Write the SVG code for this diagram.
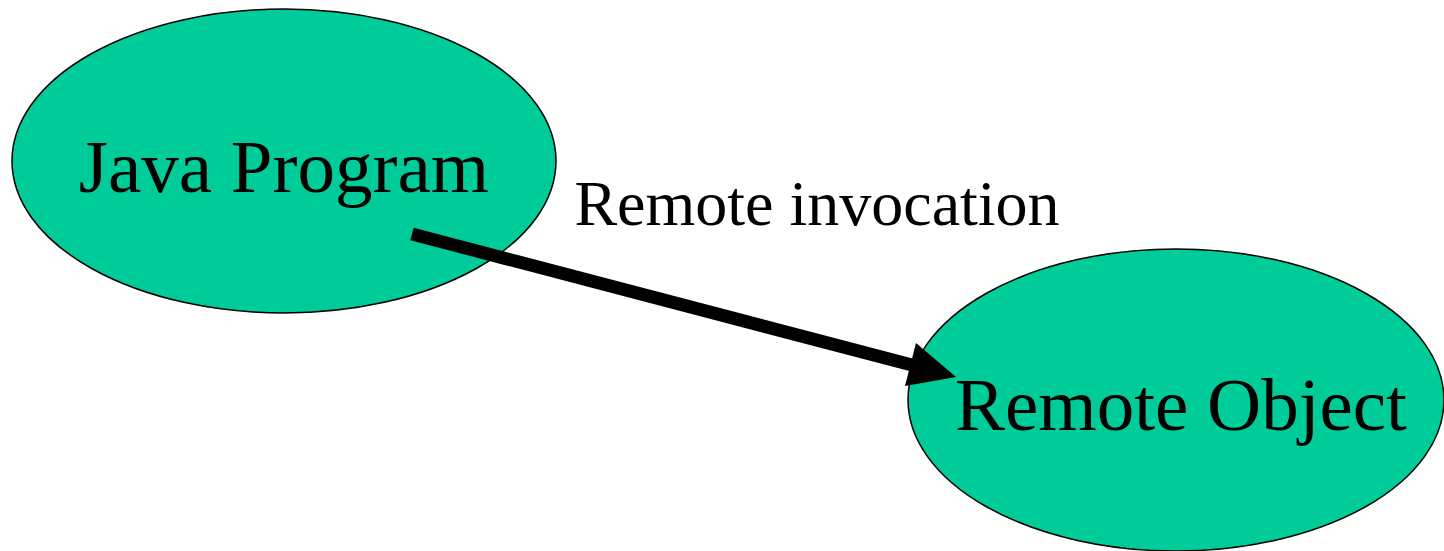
<svg xmlns="http://www.w3.org/2000/svg" width="1444" height="551" viewBox="0 0 1444 551">
  <style>
    .node ellipse { fill: #00cc99; stroke: #000; stroke-width: 1.5; }
    .label { font-family: "Liberation Serif", "Times New Roman", serif; fill: #000; text-anchor: middle; }
    .edge { stroke: #000; stroke-width: 13; fill: none; }
    .arrowhead { fill: #000; }
  </style>
  <g id="java-program" class="node">
    <ellipse cx="284" cy="161" rx="272" ry="152"/>
    <text class="label" x="284" y="192" font-size="75">Java Program</text>
  </g>
  <g id="remote-object" class="node">
    <ellipse cx="1176" cy="400" rx="268" ry="151"/>
    <text class="label" x="1181" y="430" font-size="75">Remote Object</text>
  </g>
  <g id="connectors">
    <line class="edge" x1="412" y1="234" x2="912" y2="365"/>
    <path class="arrowhead" d="M916,343 L956,377 L905,386 Z"/>
    <text class="label" x="817" y="225" font-size="64">Remote invocation</text>
  </g>
</svg>
